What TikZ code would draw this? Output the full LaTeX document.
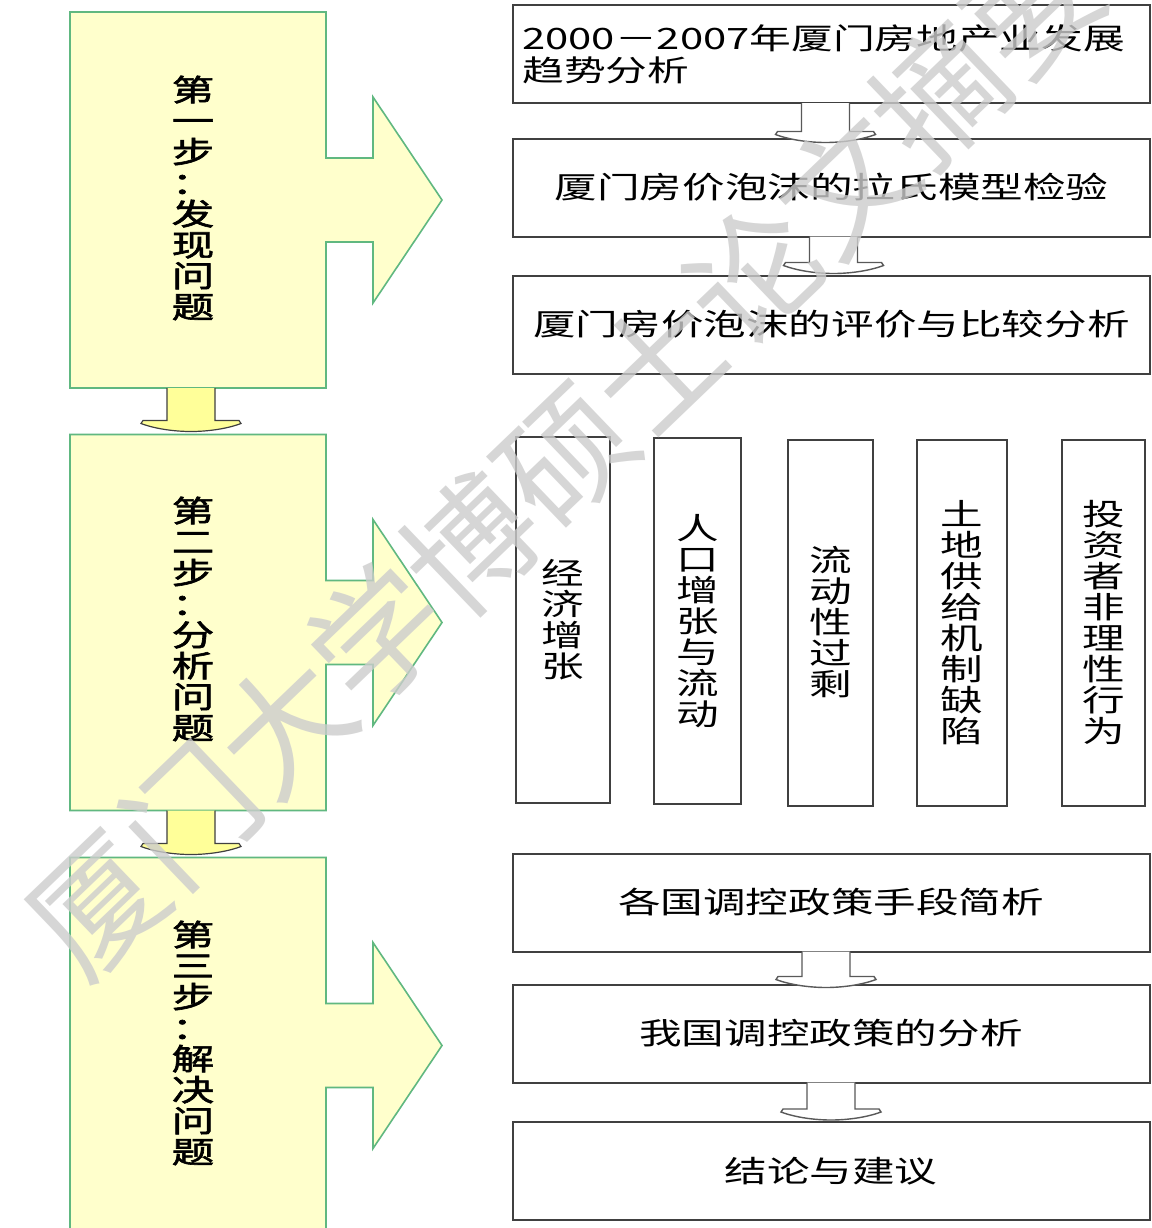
\documentclass[tikz,border=0pt]{standalone}
\usepackage{fontspec}
\newfontfamily\cjk[FakeStretch=1.42]{Noto Sans CJK SC}
\newfontfamily\cjkb[FakeStretch=1.42,FakeBold=2]{Noto Sans CJK SC}
\newfontfamily\wmfont{Noto Sans CJK SC}
\usetikzlibrary{calc}
\definecolor{stepfill}{HTML}{FFFFCC}
\definecolor{stepline}{RGB}{96,184,128}
\definecolor{yarrowfill}{HTML}{FFFF99}
\newcommand\drawstep[1]{%
  \draw[stepshape] (#1.north west) -- (#1.north east) -- ($(#1.east)+(0,-42)$) -- ($(#1.east)+(47,-42)$) -- ($(#1.east)+(47,-103)$) -- ($(#1.east)+(116,0)$) -- ($(#1.east)+(47,103)$) -- ($(#1.east)+(47,42)$) -- ($(#1.east)+(0,42)$) -- (#1.south east) -- (#1.south west) -- cycle;}
\newcommand\fatarrow[3]{%
  \filldraw[#3] ($(#1)+(-24,0)$) -- ($(#1|-#2)+(-24,-11)$) -- ($(#1|-#2)+(-48,-11)$) -- ($(#1|-#2)+(-50,-8)$) .. controls ($(#1|-#2)+(-34,-2)$) and ($(#1|-#2)+(-14,0)$) .. (#1|-#2) .. controls ($(#1|-#2)+(14,0)$) and ($(#1|-#2)+(34,-2)$) .. ($(#1|-#2)+(50,-8)$) -- ($(#1|-#2)+(48,-11)$) -- ($(#1|-#2)+(24,-11)$) -- ($(#1)+(24,0)$);}
\begin{document}
\begin{tikzpicture}[x=0.5pt,y=-0.5pt,
  stepbox/.style={inner sep=0pt,outer sep=0pt,minimum width=128pt,minimum height=188pt},
  steplabel/.style={inner sep=0pt,align=center,font=\cjkb\fontsize{15}{15.5}\selectfont},
  stepshape/.style={fill=stepfill,draw=stepline,line width=0.8pt,line join=miter},
  rbox/.style={draw=black!75,line width=1pt,fill=white,inner sep=0pt,outer sep=0pt,minimum width=318.5pt,minimum height=49pt,font=\cjk\fontsize{15}{16}\selectfont},
  vbox/.style={draw=black!75,line width=1pt,fill=white,inner sep=0pt,outer sep=0pt,minimum height=183pt,align=center,font=\cjk\fontsize{15}{15.5}\selectfont},
  yarrow/.style={fill=yarrowfill,draw=black!75,line width=0.6pt},
  garrow/.style={fill=white,draw=black!65,line width=0.7pt},
  wmark/.style={inner sep=0pt,font=\wmfont\fontsize{65}{65}\selectfont,text=black!20,text opacity=0.8}]
\useasboundingbox (0,0) rectangle (1152,1228);
\fill[white] (0,0) rectangle (1152,1228);
% left step boxes
\node[stepbox] (s1) at (198,200) {};
\node[stepbox] (s2) at (198,622.5) {};
\node[stepbox] (s3) at (198,1045.5) {};
\drawstep{s1}
\drawstep{s2}
\drawstep{s3}
\node[steplabel] (l1) at (193,198) {第\\一\\步\\：\\发\\现\\问\\题};
\node[steplabel] (l2) at (193,619) {第\\二\\步\\：\\分\\析\\问\\题};
\node[steplabel] (l3) at (193,1043) {第\\三\\步\\：\\解\\决\\问\\题};
% yellow arrows
\coordinate (ya1) at ($(s1.south)+(-7,0)$);
\coordinate (yb1) at ($(s2.north)+(-7,-3)$);
\coordinate (ya2) at ($(s2.south)+(-7,0)$);
\coordinate (yb2) at ($(s3.north)+(-7,-3)$);
\fatarrow{ya1}{yb1}{yarrow}
\fatarrow{ya2}{yb2}{yarrow}
% right boxes
\node[rbox] (r1) at (831.5,54) {};
\node[anchor=west,inner sep=0pt,align=left,font=\cjk\fontsize{14.7}{16}\selectfont] (r1t) at (522,54) {2000－2007年厦门房地产业发展\\趋势分析};
\node[rbox] (r2) at (831.5,187.5) {厦门房价泡沫的拉氏模型检验};
\node[rbox] (r3) at (831.5,324.5) {厦门房价泡沫的评价与比较分析};
\node[vbox,minimum width=47pt] (v1) at (563,620) {经\\济\\增\\张};
\node[vbox,minimum width=43.5pt] (v2) at (697.5,621) {人\\口\\增\\张\\与\\流\\动};
\node[vbox,minimum width=42.5pt] (v3) at (830.5,622.5) {流\\动\\性\\过\\剩};
\node[vbox,minimum width=45pt] (v4) at (962,622.5) {土\\地\\供\\给\\机\\制\\缺\\陷};
\node[vbox,minimum width=41.5pt] (v5) at (1103.5,622.5) {投\\资\\者\\非\\理\\性\\行\\为};
\node[rbox] (b1) at (831,902.5) {各国调控政策手段简析};
\node[rbox] (b2) at (831,1033.5) {我国调控政策的分析};
\node[rbox] (b3) at (831,1171) {结论与建议};
% grey arrows
\coordinate (ga1) at ($(r1.south)+(-6,0)$);
\coordinate (gb1) at ($(r2.north)+(-6,4)$);
\coordinate (ga2) at ($(r2.south)+(2,0)$);
\coordinate (gb2) at ($(r3.north)+(2,-2)$);
\coordinate (ga3) at ($(b1.south)+(-5,0)$);
\coordinate (gb3) at ($(b2.north)+(-5,3)$);
\coordinate (ga4) at ($(b2.south)+(0,0)$);
\coordinate (gb4) at ($(b3.north)+(0,-2)$);
\fatarrow{ga1}{gb1}{garrow}
\fatarrow{ga2}{gb2}{garrow}
\fatarrow{ga3}{gb3}{garrow}
\fatarrow{ga4}{gb4}{garrow}
% watermark
\node[wmark,rotate=43.8] (wm) at (612,410) {厦门大学博硕士论文摘要库};
\end{tikzpicture}
\end{document}
